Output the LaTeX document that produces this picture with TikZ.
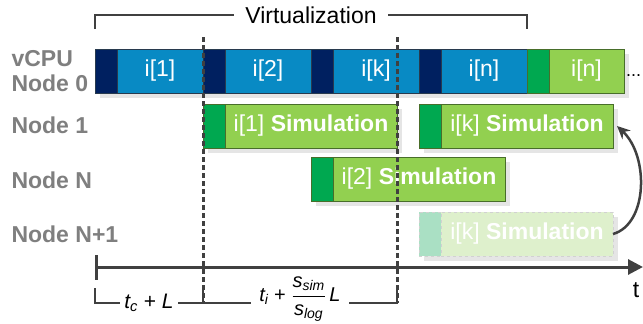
\documentclass[tikz,border=0pt]{standalone}
\usepackage{amsmath}
\usepackage{fontspec}
\setmainfont{Liberation Sans}
\usetikzlibrary{arrows.meta,calc,positioning,shadows}
\definecolor{vnavy}{RGB}{0,32,96}
\definecolor{vblue}{RGB}{8,138,196}
\definecolor{vedge}{RGB}{40,58,78}
\definecolor{sdark}{RGB}{0,168,80}
\definecolor{slight}{RGB}{146,208,80}
\definecolor{sedge}{RGB}{72,110,42}
\definecolor{fdark}{RGB}{170,224,196}
\definecolor{flight}{RGB}{222,240,204}
\definecolor{labelgray}{RGB}{127,127,127}
\definecolor{inkgray}{RGB}{64,64,64}
\tikzset{
slot/.style={rectangle,draw=vedge,line width=0.8pt,minimum height=44pt,
inner sep=0pt,outer sep=0pt,text=white,
drop shadow={shadow xshift=5pt,shadow yshift=-5pt,fill=black!10,opacity=1}},
guest/.style={slot,fill=vnavy,minimum width=22pt},
job/.style={slot,fill=vblue,minimum width=86pt},
boot/.style={slot,fill=sdark,draw=sedge,minimum width=22pt},
sim/.style={slot,fill=slight,draw=sedge,minimum width=#1},
sim/.default={172pt},
ghost/.style={draw=black!18,dashed},
rowlabel/.style={anchor=west,align=left,text=labelgray,
font=\fontsize{23}{25}\selectfont\bfseries},
delay/.style={fill=white,inner ysep=1pt,font=\fontsize{21}{24}\selectfont},
periodline/.style={draw=inkgray,line width=2.2pt},
cutline/.style={draw=inkgray,line width=3pt,dash pattern=on 4.5pt off 3.5pt},
axisline/.style={draw=inkgray,line width=3pt,
{Bar[width=25pt]}-{Triangle[length=15pt,width=15pt]}},
loopback/.style={draw=inkgray,line width=2.5pt,-{Stealth[length=13pt,width=12pt]}},
}
\begin{document}
\begin{tikzpicture}[x=1pt,y=-1pt,font=\fontsize{23}{25}\selectfont]
\useasboundingbox (0,0) rectangle (643,324);

% vCPU of node 0
\node[guest] (g1) at (106,71) {};
\node[job,right=0pt of g1] (j1) {i[1]};
\node[guest,right=0pt of j1] (g2) {};
\node[job,right=0pt of g2] (j2) {i[2]};
\node[guest,right=0pt of j2] (g3) {};
\node[job,right=0pt of g3] (jk) {i[k]};
\node[guest,right=0pt of jk] (g4) {};
\node[job,right=0pt of g4] (jn) {i[n]};
\node[boot,right=0pt of jn] (b0) {};
\node[sim=75pt,right=0pt of b0] (sn) {i[n]};
\node[right=2pt of sn,yshift=-5pt,inner sep=0pt,font=\fontsize{18}{20}\selectfont] (more) {...};

% simulations on the other nodes
\node[boot,below right=11pt and 0pt of j1.south east] (b1) {};
\node[sim,right=0pt of b1] (s1) {i[1] \textbf{Simulation}};
\node[boot,below right=11pt and 0pt of jk.south east] (b2) {};
\node[sim,right=0pt of b2] (s2) {i[k] \textbf{Simulation}};
\node[boot,below right=64pt and 0pt of j2.south east] (b3) {};
\node[sim,right=0pt of b3] (s3) {i[2] \textbf{Simulation}};
\node[boot,fill=fdark,ghost,below right=119pt and 0pt of jk.south east] (f1) {};
\node[sim,fill=flight,ghost,right=0pt of f1] (f2) {i[k] \textbf{Simulation}};

\node[rowlabel] (l0) at (8,71) {vCPU\\Node 0};
\node[rowlabel] (l1) at (8,125) {Node 1};
\node[rowlabel] (l2) at (8,180) {Node N};
\node[rowlabel] (l3) at (8,234) {Node N+1};

\coordinate (top) at (0,37);
\coordinate (bot) at (0,303);
\coordinate (axis) at (0,267);
\coordinate (tend) at (643,267);
\coordinate (tk) at (0,288);
\coordinate (tb) at (0,303);

\draw[cutline] (j1.east |- top) -- (j1.east |- bot);
\draw[cutline] (s1.east |- top) -- (s1.east |- bot);

% virtualization span
\coordinate (v1) at ($(g1.north west)+(0,-20)$);
\coordinate (v2) at ($(jn.north east)+(0,-20)$);
\draw[periodline] (v1) -- ++(0,-14) -| node[pos=0.25,fill=white,inner xsep=11pt] (virt) {Virtualization} (v2);

% time axis
\draw[axisline] (g1.west |- axis) -- (tend);
\node (tlab) at (636,290) {t};

\draw[periodline] (g1.west |- tk) |- node[pos=0.75,delay,inner xsep=4pt] (d1) {$\textit{t}_{\textit{c}}\text{ + }\textit{L}$} (j1.east |- tb) -- (j1.east |- tk)
  (j1.east |- tb) -- node[delay,inner xsep=8pt,yshift=4pt,font=\fontsize{20}{22}\selectfont] (d2) {$\textit{t}_{\textit{i}}\text{ + }\dfrac{\textit{s}_{\textit{sim}}}{\textit{s}_{\textit{log}}}\,\textit{L}$} (s1.east |- tb) -- (s1.east |- tk);

\draw[loopback] (f2.east) .. controls +(35,-10) and +(32,30) .. ([xshift=4pt]s2.east);
\end{tikzpicture}
\end{document}
